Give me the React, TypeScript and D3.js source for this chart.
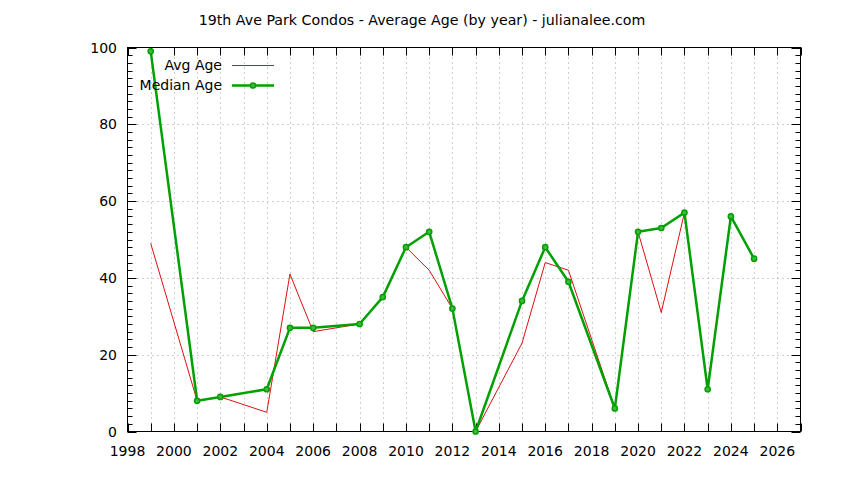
import React from "react";
import * as d3 from "d3";

const years = [1999, 2001, 2002, 2004, 2005, 2006, 2008, 2009, 2010, 2011, 2012, 2013, 2015, 2016, 2017, 2019, 2020, 2021, 2022, 2023, 2024, 2025];
const avgAge = [49, 8, 9, 5, 41, 26, 28, 35, 48, 42, 32, 0, 23, 44, 42, 6, 52, 31, 57, 11, 56, 45];
const medianAge = [99, 8, 9, 11, 27, 27, 28, 35, 48, 52, 32, 0, 34, 48, 39, 6, 52, 53, 57, 11, 56, 45];
const xLabelTicks = [1998, 2000, 2002, 2004, 2006, 2008, 2010, 2012, 2014, 2016, 2018, 2020, 2022, 2024, 2026];
const yLabelTicks = [0, 20, 40, 60, 80, 100];
const title = "19th Ave Park Condos - Average Age (by year) - julianalee.com";

const W = 844, H = 480;
const L = 127.5, R = 800.5, T = 47.5, B = 431.5;
const FONT = "DejaVu Sans, Verdana, sans-serif";
const RED = "#dd1111";
const GREEN = "#00a000";

export default function App() {
  const x = d3.scaleLinear().domain([1998, 2027]).range([L, R]);
  const y = d3.scaleLinear().domain([0, 100]).range([B, T]);
  const yearTicks = d3.range(1998, 2028);
  const yMinor = d3.range(0, 101, 2);
  const line = d3.line<number>().x((_, i) => x(years[i])).y((d) => y(d));

  return (
    <div style={{ position: "absolute", left: 0, top: 0 }}>
      <svg width={W} height={H} style={{ display: "block", background: "#fff" }}>
        <rect width={W} height={H} fill="#fff" />
        <text x={422} y={25} textAnchor="middle" fontFamily={FONT} fontSize={14.2} fill="#000">{title}</text>
        {/* grid */}
        {yearTicks.filter((t) => t > 1998 && t < 2027).map((t) => (
          <line key={"gx" + t} x1={Math.round(x(t)) + 0.5} x2={Math.round(x(t)) + 0.5} y1={T} y2={B} stroke="#a0a0a0" strokeWidth={1} strokeDasharray="1,4" />
        ))}
        {yLabelTicks.filter((t) => t > 0 && t < 100).map((t) => (
          <line key={"gy" + t} x1={L} x2={R} y1={Math.round(y(t)) + 0.5} y2={Math.round(y(t)) + 0.5} stroke="#a0a0a0" strokeWidth={1} strokeDasharray="1,4" />
        ))}
        {/* x ticks */}
        {yearTicks.map((t) => {
          const px = Math.round(x(t)) + 0.5;
          return (
            <g key={"tx" + t}>
              <line x1={px} x2={px} y1={B} y2={B - 8} stroke="#000" />
              <line x1={px} x2={px} y1={T} y2={T + 8} stroke="#000" />
            </g>
          );
        })}
        {/* y ticks */}
        {yMinor.map((t) => {
          const py = Math.round(y(t)) + 0.5;
          const len = t % 20 === 0 ? 9 : 5;
          return (
            <g key={"ty" + t}>
              <line x1={L} x2={L + len} y1={py} y2={py} stroke="#000" />
              <line x1={R} x2={R - len} y1={py} y2={py} stroke="#000" />
            </g>
          );
        })}
        <rect x={L} y={T} width={R - L} height={B - T} fill="none" stroke="#000" strokeWidth={1} />
        {xLabelTicks.map((t) => (
          <text key={"lx" + t} x={x(t)} y={456} textAnchor="middle" fontFamily={FONT} fontSize={14} fill="#000">{t}</text>
        ))}
        {yLabelTicks.map((t) => (
          <text key={"ly" + t} x={117} y={y(t) + 5} textAnchor="end" fontFamily={FONT} fontSize={14} fill="#000">{t}</text>
        ))}
        {/* series */}
        <path d={line(avgAge) || ""} fill="none" stroke={RED} strokeWidth={1} />
        <path d={line(medianAge) || ""} fill="none" stroke={GREEN} strokeWidth={2.5} strokeLinejoin="round" />
        {medianAge.map((v, i) => (
          <circle key={"p" + i} cx={x(years[i])} cy={y(v)} r={2.6} fill="#40b840" stroke={GREEN} strokeWidth={1.5} />
        ))}
        {/* legend */}
        <text x={222} y={70} textAnchor="end" fontFamily={FONT} fontSize={14} fill="#000">Avg Age</text>
        <line x1={232} x2={274} y1={65.5} y2={65.5} stroke={RED} strokeWidth={1} />
        <text x={222} y={90} textAnchor="end" fontFamily={FONT} fontSize={14} fill="#000">Median Age</text>
        <line x1={232} x2={274} y1={85.5} y2={85.5} stroke={GREEN} strokeWidth={2.5} />
        <circle cx={253} cy={85.5} r={2.6} fill="#40b840" stroke={GREEN} strokeWidth={1.5} />
      </svg>
    </div>
  );
}
